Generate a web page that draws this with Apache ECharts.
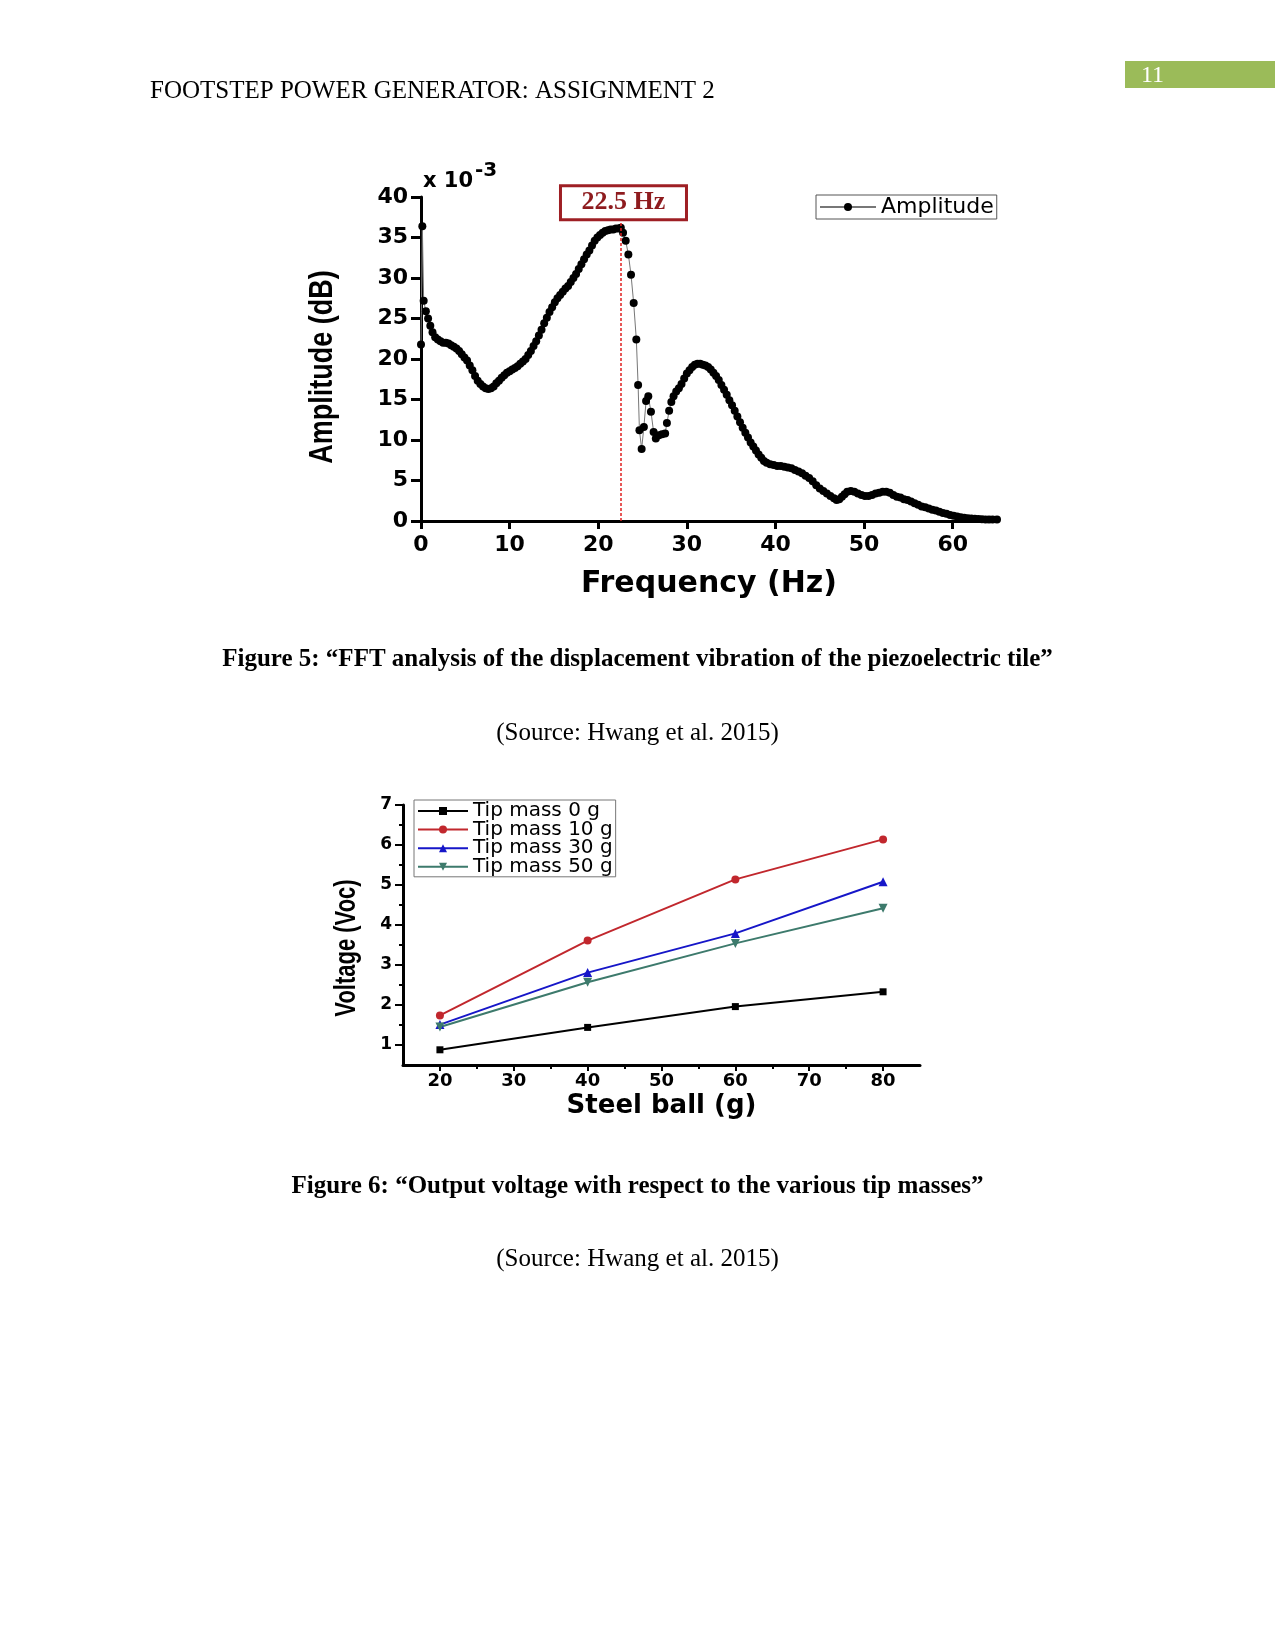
<!DOCTYPE html>
<html>
<head>
<meta charset="utf-8">
<script src="https://cdn.jsdelivr.net/npm/echarts@6/dist/echarts.min.js"></script>
<style>
html,body{margin:0;padding:0;background:#fff;}
#c{width:1275px;height:1650px;}
</style>
</head>
<body>
<div id="c"></div>
<script>
// ---------- Figure 5 data (FFT) ----------
var fftFreq = [0.00,0.15,0.30,0.55,0.80,1.05,1.30,1.60,1.90,2.20,2.50,2.80,3.10,3.40,3.70,4.00,4.30,4.60,4.90,5.20,5.50,5.80,6.10,6.40,6.70,7.00,7.30,7.60,7.90,8.20,8.50,8.80,9.10,9.40,9.70,10.00,10.30,10.60,10.90,11.20,11.50,11.80,12.10,12.40,12.70,13.00,13.30,13.60,13.90,14.20,14.50,14.80,15.10,15.40,15.70,16.00,16.30,16.60,16.90,17.20,17.50,17.80,18.10,18.40,18.70,19.00,19.30,19.60,19.90,20.20,20.50,20.80,21.10,21.40,21.70,22.00,22.30,22.55,22.80,23.10,23.40,23.70,24.00,24.30,24.50,24.65,24.90,25.15,25.40,25.65,25.95,26.25,26.50,26.85,27.20,27.55,27.75,28.00,28.25,28.50,28.80,29.10,29.40,29.70,30.00,30.30,30.60,30.90,31.20,31.50,31.80,32.10,32.40,32.70,33.00,33.30,33.60,33.90,34.20,34.50,34.80,35.10,35.40,35.70,36.00,36.30,36.60,36.90,37.20,37.50,37.80,38.10,38.40,38.70,39.00,39.40,39.80,40.20,40.60,41.00,41.40,41.80,42.20,42.60,43.00,43.40,43.80,44.20,44.60,45.00,45.40,45.80,46.20,46.60,46.90,47.20,47.50,47.80,48.10,48.50,48.90,49.30,49.70,50.10,50.50,50.90,51.30,51.70,52.10,52.50,52.90,53.30,53.70,54.10,54.50,54.90,55.30,55.70,56.10,56.50,56.90,57.30,57.70,58.10,58.50,58.90,59.30,59.70,60.10,60.50,60.90,61.30,61.70,62.10,62.50,62.90,63.30,63.70,64.10,64.50,65.00];
var fftAmp = [21.8,36.4,27.2,25.9,25.0,24.1,23.3,22.7,22.4,22.2,22.0,22.0,21.9,21.7,21.5,21.3,21.0,20.6,20.2,19.8,19.2,18.6,17.9,17.3,16.9,16.6,16.4,16.3,16.4,16.6,17.0,17.3,17.7,18.0,18.3,18.5,18.7,18.9,19.1,19.4,19.7,20.0,20.5,21.0,21.6,22.2,22.9,23.6,24.4,25.1,25.8,26.4,27.0,27.5,27.9,28.3,28.7,29.0,29.5,30.0,30.5,31.1,31.7,32.3,32.9,33.4,34.0,34.6,35.0,35.3,35.6,35.8,35.9,36.0,36.0,36.1,36.1,36.2,35.6,34.6,32.9,30.4,26.9,22.4,16.8,11.2,8.9,11.6,14.8,15.4,13.5,11.0,10.2,10.6,10.7,10.8,12.1,13.6,14.7,15.4,16.0,16.4,16.9,17.6,18.2,18.6,19.0,19.3,19.4,19.4,19.3,19.2,19.0,18.7,18.3,17.9,17.4,16.8,16.2,15.6,14.9,14.3,13.6,12.9,12.2,11.5,10.9,10.3,9.7,9.2,8.7,8.2,7.8,7.4,7.2,7.0,6.9,6.8,6.8,6.7,6.6,6.5,6.3,6.1,5.9,5.6,5.3,4.9,4.4,4.0,3.7,3.4,3.1,2.8,2.6,2.7,3.0,3.3,3.6,3.7,3.6,3.4,3.2,3.1,3.1,3.2,3.4,3.5,3.6,3.6,3.5,3.2,3.0,2.9,2.7,2.6,2.4,2.2,2.0,1.8,1.7,1.55,1.4,1.3,1.15,1.0,0.9,0.75,0.65,0.55,0.45,0.4,0.35,0.3,0.28,0.25,0.22,0.2,0.2,0.18,0.17];
var fftXTicks = [0,10,20,30,40,50,60];
var fftYTicks = [0,5,10,15,20,25,30,35,40];
var peakFreq = 22.5;

// ---------- Figure 6 data (voltage) ----------
var ballMass = [20,40,60,80];
var tipNames = ['Tip mass 0 g','Tip mass 10 g','Tip mass 30 g','Tip mass 50 g'];
var vTip0  = [0.88,1.44,1.96,2.33];
var vTip10 = [1.74,3.61,5.14,6.14];
var vTip30 = [1.51,2.81,3.79,5.08];
var vTip50 = [1.45,2.57,3.54,4.42];
var voltXTicks = [20,30,40,50,60,70,80];
var voltXMinor = [25,35,45,55,65,75];
var voltYTicks = [1,2,3,4,5,6,7];
var voltYMinor = [1.5,2.5,3.5,4.5,5.5,6.5];

function zip(a,b){ return a.map(function(v,i){ return [v,b[i]]; }); }

var chart = echarts.init(document.getElementById('c'), null, {renderer:'canvas'});
var SANS = 'DejaVu Sans';
var blackAxis = {show:true, lineStyle:{color:'#000', width:3}};

var option = {
  animation:false,
  backgroundColor:'#fff',
  grid:[
    {left:421, top:197, width:576, height:324, containLabel:false},
    {left:403, top:805, width:517, height:260, containLabel:false}
  ],
  xAxis:[
    {gridIndex:0, type:'value', min:0, max:65, position:'bottom',
     axisLine:blackAxis, splitLine:{show:false},
     axisTick:{show:true, customValues:fftXTicks, length:8, lineStyle:{color:'#000', width:3}},
     axisLabel:{customValues:fftXTicks, color:'#000', fontFamily:SANS, fontWeight:'bold', fontSize:22, margin:13},
     name:'Frequency (Hz)', nameLocation:'middle', nameGap:48,
     nameTextStyle:{color:'#000', fontFamily:SANS, fontWeight:'bold', fontSize:30}},
    {gridIndex:1, type:'value', min:15, max:85, position:'bottom',
     axisLine:blackAxis, splitLine:{show:false},
     axisTick:{show:true, customValues:voltXTicks, length:6, lineStyle:{color:'#000', width:2}},
     axisLabel:{customValues:voltXTicks, color:'#000', fontFamily:SANS, fontWeight:'bold', fontSize:18, margin:7},
     name:'Steel ball (g)', nameLocation:'middle', nameGap:28,
     nameTextStyle:{color:'#000', fontFamily:SANS, fontWeight:'bold', fontSize:26}},
    {gridIndex:1, type:'value', min:15, max:85, position:'bottom', offset:0,
     axisLine:{show:false}, splitLine:{show:false},
     axisTick:{show:true, customValues:voltXMinor, length:4, lineStyle:{color:'#000', width:2}},
     axisLabel:{show:false}}
  ],
  yAxis:[
    {gridIndex:0, type:'value', min:0, max:40, position:'left',
     axisLine:blackAxis, splitLine:{show:false},
     axisTick:{show:true, customValues:fftYTicks, length:10, lineStyle:{color:'#000', width:3}},
     axisLabel:{customValues:fftYTicks, color:'#000', fontFamily:SANS, fontWeight:'bold', fontSize:22, margin:13}},
    {gridIndex:1, type:'value', min:0.5, max:7, position:'left',
     axisLine:blackAxis, splitLine:{show:false},
     axisTick:{show:true, customValues:voltYTicks, length:8, lineStyle:{color:'#000', width:2}},
     axisLabel:{customValues:voltYTicks, color:'#000', fontFamily:SANS, fontWeight:'bold', fontSize:17, margin:11}},
    {gridIndex:1, type:'value', min:0.5, max:7, position:'left', offset:0,
     axisLine:{show:false}, splitLine:{show:false},
     axisTick:{show:true, customValues:voltYMinor, length:4, lineStyle:{color:'#000', width:2}},
     axisLabel:{show:false}}
  ],
  legend:[
    {data:['Amplitude'], left:816, top:195, orient:'horizontal',
     itemWidth:56, itemHeight:10, padding:[1,3,1,3],
     borderColor:'#555', borderWidth:1,
     textStyle:{color:'#000', fontFamily:SANS, fontSize:22, lineHeight:21}},
    {data:tipNames, left:414, top:800, orient:'vertical',
     itemWidth:50, itemHeight:10, itemGap:-1.4, padding:[1,3,0,3],
     borderColor:'#777', borderWidth:1,
     textStyle:{color:'#000', fontFamily:SANS, fontSize:20, lineHeight:18.6}}
  ],
  series:[
    {name:'Amplitude', type:'line', xAxisIndex:0, yAxisIndex:0,
     data:zip(fftFreq, fftAmp), symbol:'circle', symbolSize:8, showAllSymbol:true,
     clip:false, itemStyle:{color:'#000'}, lineStyle:{color:'#777', width:1},
     markLine:{silent:true, symbol:['none','none'], label:{show:false},
       lineStyle:{color:'#E02020', type:[3,2], width:1.5},
       data:[[{coord:[peakFreq,0]},{coord:[peakFreq,37]}]]},
     markPoint:{silent:true,
       data:[{coord:[22.85,39.3], symbol:'rect', symbolSize:[1,1], itemStyle:{color:'rgba(0,0,0,0)'},
         label:{show:true, position:'inside', formatter:'22.5 Hz',
           fontFamily:'Liberation Serif', fontWeight:'bold', fontSize:26, color:'#8E1B1E',
           backgroundColor:'#fff', borderColor:'#9E1F24', borderWidth:3,
           width:123, height:31, lineHeight:31, align:'center', verticalAlign:'middle', padding:0}}]}},
    {name:tipNames[0], type:'line', xAxisIndex:1, yAxisIndex:1, data:zip(ballMass, vTip0),
     symbol:'rect', symbolSize:7, itemStyle:{color:'#000'}, lineStyle:{color:'#000', width:2}},
    {name:tipNames[1], type:'line', xAxisIndex:1, yAxisIndex:1, data:zip(ballMass, vTip10),
     symbol:'circle', symbolSize:8, itemStyle:{color:'#C1272D'}, lineStyle:{color:'#C1272D', width:2}},
    {name:tipNames[2], type:'line', xAxisIndex:1, yAxisIndex:1, data:zip(ballMass, vTip30),
     symbol:'triangle', symbolSize:9, itemStyle:{color:'#1616C8'}, lineStyle:{color:'#1616C8', width:2}},
    {name:tipNames[3], type:'line', xAxisIndex:1, yAxisIndex:1, data:zip(ballMass, vTip50),
     symbol:'triangle', symbolRotate:180, symbolSize:9, itemStyle:{color:'#3D7A6C'}, lineStyle:{color:'#3D7A6C', width:2}}
  ],
  graphic:[
    {type:'text', x:150, y:91.5, style:{text:'FOOTSTEP POWER GENERATOR: ASSIGNMENT 2', font:'25px "Liberation Serif"', fill:'#000', verticalAlign:'middle'}},
    {type:'rect', shape:{x:1125, y:61, width:150, height:27}, style:{fill:'#9BBB59'}},
    {type:'text', x:1141, y:75.5, style:{text:'11', font:'24px "Liberation Serif"', fill:'#fff', verticalAlign:'middle'}},
    {type:'text', x:423, y:182, style:{text:'x 10', font:'bold 21px "DejaVu Sans"', fill:'#000', verticalAlign:'middle'}},
    {type:'text', x:475, y:171, style:{text:'-3', font:'bold 20px "DejaVu Sans"', fill:'#000', verticalAlign:'middle'}},
    {type:'text', x:323, y:367, rotation:Math.PI/2, scaleY:1.25,
     style:{text:'Amplitude (dB)', font:'bold 27px "Liberation Sans"', fill:'#000', align:'center', verticalAlign:'middle'}},
    {type:'text', x:347, y:948, rotation:Math.PI/2, scaleY:1.3,
     style:{text:'Voltage (Voc)', font:'bold 22px "Liberation Sans"', fill:'#000', align:'center', verticalAlign:'middle'}},
    {type:'text', x:637.5, y:659.5, style:{text:'Figure 5: \u201cFFT analysis of the displacement vibration of the piezoelectric tile\u201d', font:'bold 25px "Liberation Serif"', fill:'#000', align:'center', verticalAlign:'middle'}},
    {type:'text', x:637.5, y:733, style:{text:'(Source: Hwang et al. 2015)', font:'25px "Liberation Serif"', fill:'#000', align:'center', verticalAlign:'middle'}},
    {type:'text', x:637.5, y:1186.5, style:{text:'Figure 6: \u201cOutput voltage with respect to the various tip masses\u201d', font:'bold 25px "Liberation Serif"', fill:'#000', align:'center', verticalAlign:'middle'}},
    {type:'text', x:637.5, y:1259, style:{text:'(Source: Hwang et al. 2015)', font:'25px "Liberation Serif"', fill:'#000', align:'center', verticalAlign:'middle'}}
  ]
};
chart.setOption(option);
</script>
</body>
</html>
